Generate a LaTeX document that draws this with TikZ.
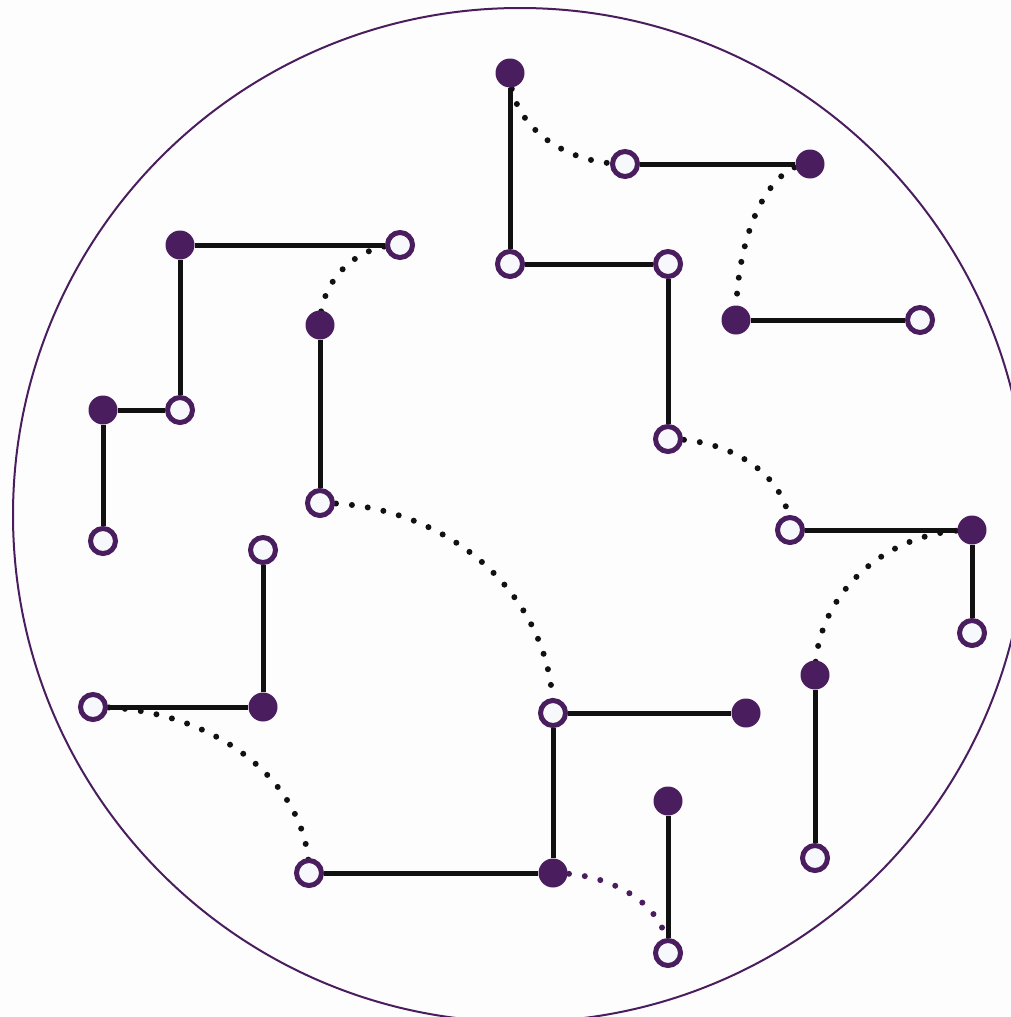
\documentclass[tikz,border=0pt]{standalone}
\usetikzlibrary{calc,backgrounds}
\definecolor{pur}{RGB}{74,30,94}
\definecolor{ink}{RGB}{17,17,17}
\definecolor{pale}{RGB}{246,248,251}
\definecolor{bg}{RGB}{253,253,253}
\newcommand\harc[3][ink]{\draw[dots,draw=#1] (#2.center) .. controls ($(#2.center)!0.5523!(#2.center -| #3.center)$) and ($(#3.center)!0.5523!(#2.center -| #3.center)$) .. (#3.center);}
\newcommand\varc[3][ink]{\draw[dots,draw=#1] (#2.center) .. controls ($(#2.center)!0.5523!(#2.center |- #3.center)$) and ($(#3.center)!0.5523!(#2.center |- #3.center)$) .. (#3.center);}
\begin{document}
\begin{tikzpicture}[x=1pt,y=-1pt,
  fnode/.style={circle,fill=pur,minimum size=29pt,inner sep=0pt},
  onode/.style={circle,draw=pur,fill=pale,line width=5pt,minimum size=25pt,inner sep=0pt},
  wire/.style={draw=ink,line width=5pt},
  dots/.style={line width=6pt,line cap=round,dash pattern=on 0pt off 16pt}]
\useasboundingbox (0,0) rectangle (1011,1017);
\clip (0,0) rectangle (1011,1017);
% nodes
\node[fnode] (a1) at (510,73) {};
\node[onode] (a2) at (510,264) {};
\node[onode] (a3) at (668,264) {};
\node[onode] (a4) at (668,439) {};
\node[onode] (b1) at (625,164) {};
\node[fnode] (b2) at (810,164) {};
\node[fnode] (c1) at (736,320) {};
\node[onode] (c2) at (920,320) {};
\node[onode] (d1) at (790,530) {};
\node[fnode] (d2) at (972,530) {};
\node[onode] (d3) at (972,633) {};
\node[fnode] (e1) at (815,675) {};
\node[onode] (e2) at (815,858) {};
\node[fnode] (f1) at (180,245) {};
\node[onode] (f2) at (400,245) {};
\node[onode] (f3) at (180,410) {};
\node[fnode] (f4) at (103,410) {};
\node[onode] (f5) at (103,541) {};
\node[fnode] (g1) at (320,325) {};
\node[onode] (g2) at (320,503) {};
\node[onode] (h1) at (553,713) {};
\node[fnode] (h2) at (746,713) {};
\node[fnode] (h3) at (553,873) {};
\node[onode] (h4) at (309,873) {};
\node[fnode] (i1) at (668,801) {};
\node[onode] (i2) at (668,953) {};
\node[onode] (i3) at (93,707) {};
\node[fnode] (j1) at (263,707) {};
\node[onode] (j2) at (263,550) {};
\begin{scope}[on background layer]
\fill[bg] (0,0) rectangle (1011,1017);
\draw[pur,line width=2pt] (520,515) circle[radius=507pt];
% solid wires
\draw[wire] (a1) -- (a2);
\draw[wire] (a2) -- (a3);
\draw[wire] (a3) -- (a4);
\draw[wire] (b1) -- (b2);
\draw[wire] (c1) -- (c2);
\draw[wire] (d1) -- (d2);
\draw[wire] (d2) -- (d3);
\draw[wire] (e1) -- (e2);
\draw[wire] (f1) -- (f2);
\draw[wire] (f1) -- (f3);
\draw[wire] (f3) -- (f4);
\draw[wire] (f4) -- (f5);
\draw[wire] (g1) -- (g2);
\draw[wire] (h1) -- (h2);
\draw[wire] (h1) -- (h3);
\draw[wire] (h3) -- (h4);
\draw[wire] (i1) -- (i2);
\draw[wire] (i3) -- (j1);
\draw[wire] (j1) -- (j2);
% dotted arcs
\varc{a1}{b1}
\harc{b2}{c1}
\harc{a4}{d1}
\harc{d2}{e1}
\harc{f2}{g1}
\harc{g2}{h1}
\harc{i3}{h4}
\harc[pur]{h3}{i2}
\end{scope}
\end{tikzpicture}
\end{document}
